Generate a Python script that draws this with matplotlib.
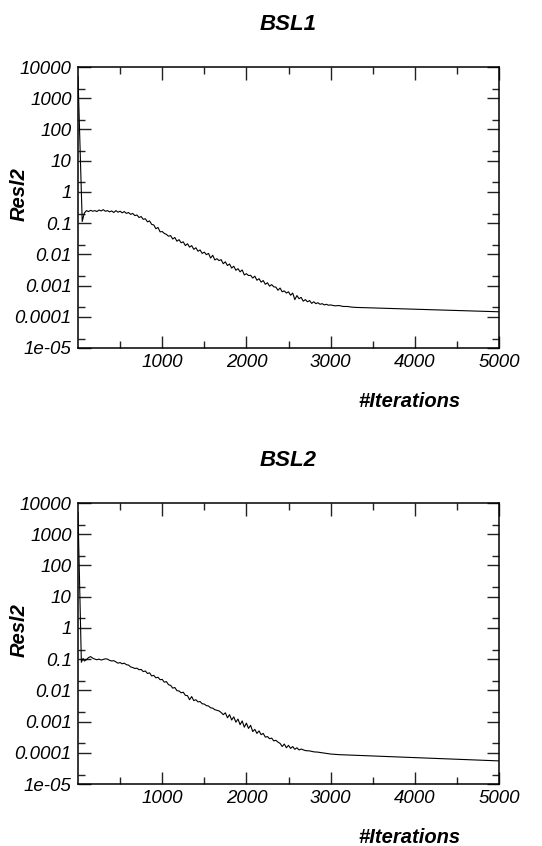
import numpy as np
import matplotlib
matplotlib.use("Agg")
import matplotlib.pyplot as plt
from matplotlib.ticker import FixedLocator, FixedFormatter, NullFormatter

plt.rcParams['font.family'] = ['Liberation Sans', 'DejaVu Sans']
plt.rcParams['font.style'] = 'italic'

titles = ["BSL1", "BSL2"]
x_label = "#Iterations"
y_label = "Resl2"

# iteration numbers
iters_head = [0, 50, 75]
iters_dense = list(range(100, 3001, 25))
bsl1_x = iters_head + iters_dense + [3050, 3100, 3150, 3200, 3250, 3300, 5000]

# BSL1 residual, given as log10 values
bsl1_log10 = [
    3.70, -0.95, -0.68,
    -0.60, -0.63, -0.59, -0.62, -0.60, -0.63, -0.58, -0.61,  # 100-275
    -0.57, -0.62, -0.60, -0.64, -0.61, -0.66, -0.60, -0.65,  # 300-475
    -0.62, -0.67, -0.63, -0.69, -0.66, -0.72, -0.69, -0.76,  # 500-675
    -0.74, -0.82, -0.79, -0.88, -0.86, -0.96, -0.93, -1.04,  # 700-875
    -1.06, -1.18, -1.14, -1.28, -1.27, -1.33, -1.36, -1.42,  # 900-1075
    -1.40, -1.51, -1.46, -1.58, -1.53, -1.63, -1.60, -1.72,  # 1100-1275
    -1.66, -1.77, -1.72, -1.84, -1.79, -1.90, -1.86, -1.97,  # 1300-1475
    -1.93, -2.01, -1.97, -2.12, -2.03, -2.18, -2.14, -2.20,  # 1500-1675
    -2.17, -2.30, -2.24, -2.36, -2.31, -2.44, -2.38, -2.51,  # 1700-1875
    -2.46, -2.56, -2.50, -2.66, -2.62, -2.68, -2.67, -2.76,  # 1900-2075
    -2.70, -2.83, -2.78, -2.89, -2.84, -2.96, -2.91, -3.02,  # 2100-2275
    -2.97, -3.04, -3.05, -3.15, -3.08, -3.20, -3.17, -3.24,  # 2300-2475
    -3.20, -3.31, -3.24, -3.45, -3.32, -3.42, -3.38, -3.50,  # 2500-2675
    -3.45, -3.52, -3.48, -3.57, -3.52, -3.58, -3.55, -3.60,  # 2700-2875
    -3.58, -3.62, -3.60, -3.63, -3.62,                       # 2900-3000
    -3.65, -3.64, -3.67, -3.67, -3.69, -3.70, -3.84,
]

iters2_head = [0, 40, 60, 75]
iters2_dense = list(range(100, 2651, 25))
bsl2_x = iters2_head + iters2_dense + [2700, 2750, 2800, 2850, 2900, 3000, 3100, 5000]

# BSL2 residual, given as log10 values
bsl2_log10 = [
    3.70, -1.10, -0.98, -1.06,
    -1.02, -0.95, -0.92, -0.97, -1.00, -1.02, -1.00, -1.03,  # 100-275
    -1.01, -0.99, -1.00, -1.04, -1.06, -1.05, -1.09, -1.13,  # 300-475
    -1.11, -1.15, -1.13, -1.18, -1.19, -1.25, -1.27, -1.30,  # 500-675
    -1.29, -1.34, -1.33, -1.40, -1.38, -1.46, -1.44, -1.54,  # 700-875
    -1.52, -1.60, -1.58, -1.66, -1.65, -1.74, -1.72, -1.82,  # 900-1075
    -1.84, -1.93, -1.91, -2.01, -2.02, -2.08, -2.06, -2.16,  # 1100-1275
    -2.17, -2.30, -2.20, -2.33, -2.30, -2.37, -2.36, -2.43,  # 1300-1475
    -2.44, -2.49, -2.50, -2.56, -2.57, -2.62, -2.64, -2.66,  # 1500-1675
    -2.71, -2.78, -2.72, -2.88, -2.78, -2.95, -2.85, -3.02,  # 1700-1875
    -2.92, -3.10, -2.98, -3.18, -3.05, -3.22, -3.12, -3.32,  # 1900-2075
    -3.25, -3.38, -3.30, -3.42, -3.38, -3.50, -3.48, -3.55,  # 2100-2275
    -3.53, -3.62, -3.60, -3.66, -3.70, -3.80, -3.72, -3.84,  # 2300-2475
    -3.76, -3.86, -3.80, -3.89, -3.84, -3.91, -3.88,         # 2500-2650
    -3.93, -3.94, -3.97, -3.98, -4.00, -4.04, -4.06, -4.26,
]

series_x = [bsl1_x, bsl2_x]
series_y = [np.power(10.0, bsl1_log10), np.power(10.0, bsl2_log10)]

y_major = [1e-5, 1e-4, 1e-3, 1e-2, 1e-1, 1, 10, 100, 1000, 10000]
y_major_labels = ["1e-05", "0.0001", "0.001", "0.01", "0.1", "1", "10", "100", "1000", "10000"]
y_minor = [2e-5, 2e-4, 2e-3, 2e-2, 2e-1, 2, 20, 200, 2000]
x_major = [1000, 2000, 3000, 4000, 5000]
x_major_labels = ["1000", "2000", "3000", "4000", "5000"]
x_minor = [500, 1500, 2500, 3500, 4500]

W, H = 542, 846
fig = plt.figure(figsize=(W / 100, H / 100), dpi=100)

# axes boxes in pixels: (left, top, right, bottom)
boxes = [(78, 67, 499, 348), (78, 503, 499, 784)]

for i, (l, t, r, b) in enumerate(boxes):
    ax = fig.add_axes([l / W, 1 - b / H, (r - l) / W, (b - t) / H])
    ax.plot(series_x[i], series_y[i], color='black', lw=0.8)
    ax.set_yscale('log')
    ax.set_xlim(0, 5000)
    ax.set_ylim(1e-5, 1e4)
    ax.yaxis.set_major_locator(FixedLocator(y_major))
    ax.yaxis.set_major_formatter(FixedFormatter(y_major_labels))
    ax.yaxis.set_minor_locator(FixedLocator(y_minor))
    ax.yaxis.set_minor_formatter(NullFormatter())
    ax.xaxis.set_major_locator(FixedLocator(x_major))
    ax.xaxis.set_major_formatter(FixedFormatter(x_major_labels))
    ax.xaxis.set_minor_locator(FixedLocator(x_minor))
    ax.tick_params(which='both', direction='in', top=True, right=True,
                   width=1.0, color='#222222')
    ax.tick_params(which='major', length=9, labelsize=13.5, pad=4.5)
    ax.tick_params(which='minor', length=5)
    for sp in ax.spines.values():
        sp.set_linewidth(1.1)
    for lab in ax.get_xticklabels() + ax.get_yticklabels():
        lab.set_fontstyle('italic')

    cx = (l + r) / 2
    fig.text(cx / W, 1 - (t - 37) / H, titles[i], ha='center', va='baseline',
             fontsize=16, fontweight='bold', fontstyle='italic')
    fig.text(409 / W, 1 - (b + 59) / H, x_label, ha='center', va='baseline',
             fontsize=14.5, fontweight='bold', fontstyle='italic')
    fig.text(19 / W, 1 - (t + 127) / H, y_label, ha='center', va='center',
             rotation=90, fontsize=14.5, fontweight='bold', fontstyle='italic')

fig.savefig("out.png", dpi=100)
